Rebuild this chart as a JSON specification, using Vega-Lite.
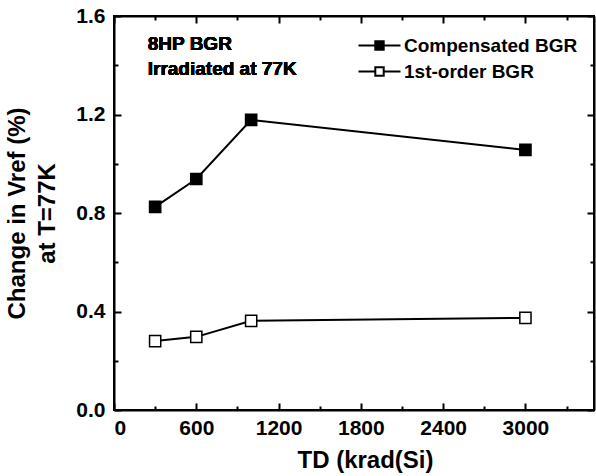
{
  "$schema": "https://vega.github.io/schema/vega-lite/v6.json",
  "width": 480,
  "height": 394,
  "autosize": "none",
  "padding": {"left": 114, "top": 16, "right": 2, "bottom": 66},
  "background": "white",
  "config": {
    "font": "Liberation Sans",
    "view": {"stroke": "black", "strokeWidth": 2},
    "axis": {
      "grid": false,
      "domainColor": "black",
      "domainWidth": 2,
      "tickColor": "black",
      "tickWidth": 2,
      "labelFont": "Liberation Sans",
      "labelFontWeight": "bold",
      "labelFontSize": 21,
      "labelColor": "black",
      "titleFont": "Liberation Sans",
      "titleFontWeight": "bold",
      "titleFontSize": 24,
      "titleColor": "black"
    }
  },
  "data": {
    "values": [
      {"td": 300, "change": 0.825, "series": "Compensated BGR"},
      {"td": 600, "change": 0.938, "series": "Compensated BGR"},
      {"td": 1000, "change": 1.178, "series": "Compensated BGR"},
      {"td": 3000, "change": 1.056, "series": "Compensated BGR"},
      {"td": 300, "change": 0.28, "series": "1st-order BGR"},
      {"td": 600, "change": 0.297, "series": "1st-order BGR"},
      {"td": 1000, "change": 0.362, "series": "1st-order BGR"},
      {"td": 3000, "change": 0.374, "series": "1st-order BGR"}
    ]
  },
  "layer": [
    {
      "mark": {"type": "line", "color": "black", "strokeWidth": 2},
      "encoding": {
        "x": {
          "field": "td", "type": "quantitative",
          "scale": {"domain": [0, 3500], "nice": false},
          "axis": {
            "orient": "top", "labels": false, "title": null,
            "values": [0, 300, 600, 900, 1200, 1500, 1800, 2100, 2400, 2700, 3000, 3300],
            "tickSize": {"condition": {"test": "datum.value % 600 === 0", "value": -7}, "value": -4}
          }
        },
        "y": {
          "field": "change", "type": "quantitative",
          "scale": {"domain": [0, 1.6], "nice": false},
          "axis": {
            "orient": "right", "labels": false, "title": null,
            "values": [0, 0.2, 0.4, 0.6, 0.8, 1.0, 1.2, 1.4, 1.6],
            "tickSize": {"condition": {"test": "abs(round(datum.value*10)) % 4 === 0", "value": -7}, "value": -4}
          }
        },
        "detail": {"field": "series"}
      }
    },
    {
      "mark": {"type": "point", "shape": "square", "filled": true, "size": 125, "stroke": "black", "strokeWidth": 1.5, "opacity": 1},
      "encoding": {
        "x": {
          "field": "td", "type": "quantitative",
          "axis": {
            "orient": "bottom",
            "title": "TD (krad(Si)",
            "titlePadding": 10,
            "titleX": 251,
            "values": [0, 300, 600, 900, 1200, 1500, 1800, 2100, 2400, 2700, 3000, 3300],
            "labelExpr": "datum.value % 600 === 0 ? format(datum.value, 'd') : ''",
            "labelPadding": 14,
            "tickSize": {"condition": {"test": "datum.value % 600 === 0", "value": -7}, "value": -4}
          }
        },
        "y": {
          "field": "change", "type": "quantitative",
          "axis": {
            "orient": "left",
            "title": ["Change in Vref (%)", "at T=77K"],
            "titleLineHeight": 30,
            "titlePadding": 16,
            "values": [0, 0.2, 0.4, 0.6, 0.8, 1.0, 1.2, 1.4, 1.6],
            "labelExpr": "abs(round(datum.value*10)) % 4 === 0 ? format(datum.value, '.1f') : ''",
            "labelPadding": 16,
            "tickSize": {"condition": {"test": "abs(round(datum.value*10)) % 4 === 0", "value": -7}, "value": -4}
          }
        },
        "fill": {
          "field": "series", "type": "nominal",
          "scale": {"domain": ["Compensated BGR", "1st-order BGR"], "range": ["black", "white"]},
          "legend": {
            "orient": "none",
            "legendX": 256,
            "legendY": 20,
            "title": null,
            "padding": 0,
            "symbolType": "M-3,0H-0.64M0.64,0H3M-0.6,-0.6H0.6V0.6H-0.6Z",
            "symbolSize": 196,
            "symbolStrokeColor": "black",
            "symbolStrokeWidth": 2,
            "labelFont": "Liberation Sans",
            "labelFontWeight": "bold",
            "labelFontSize": 19,
            "labelColor": "black",
            "labelOffset": 15,
            "labelLimit": 0,
            "rowPadding": 6
          }
        }
      }
    },
    {
      "mark": {"type": "text", "align": "left", "baseline": "middle", "font": "Liberation Sans", "fontWeight": "bold", "fontSize": 19, "color": "black"},
      "encoding": {
        "x": {"datum": 246, "type": "quantitative", "axis": null},
        "y": {"datum": 1.487, "type": "quantitative", "axis": null},
        "text": {"value": "8HP BGR"}
      }
    },
    {
      "mark": {"type": "text", "align": "left", "baseline": "middle", "font": "Liberation Sans", "fontWeight": "bold", "fontSize": 19, "color": "black"},
      "encoding": {
        "x": {"datum": 246, "type": "quantitative", "axis": null},
        "y": {"datum": 1.385, "type": "quantitative", "axis": null},
        "text": {"value": "Irradiated at 77K"}
      }
    }
  ],
  "resolve": {"axis": {"x": "independent", "y": "independent"}}
}
